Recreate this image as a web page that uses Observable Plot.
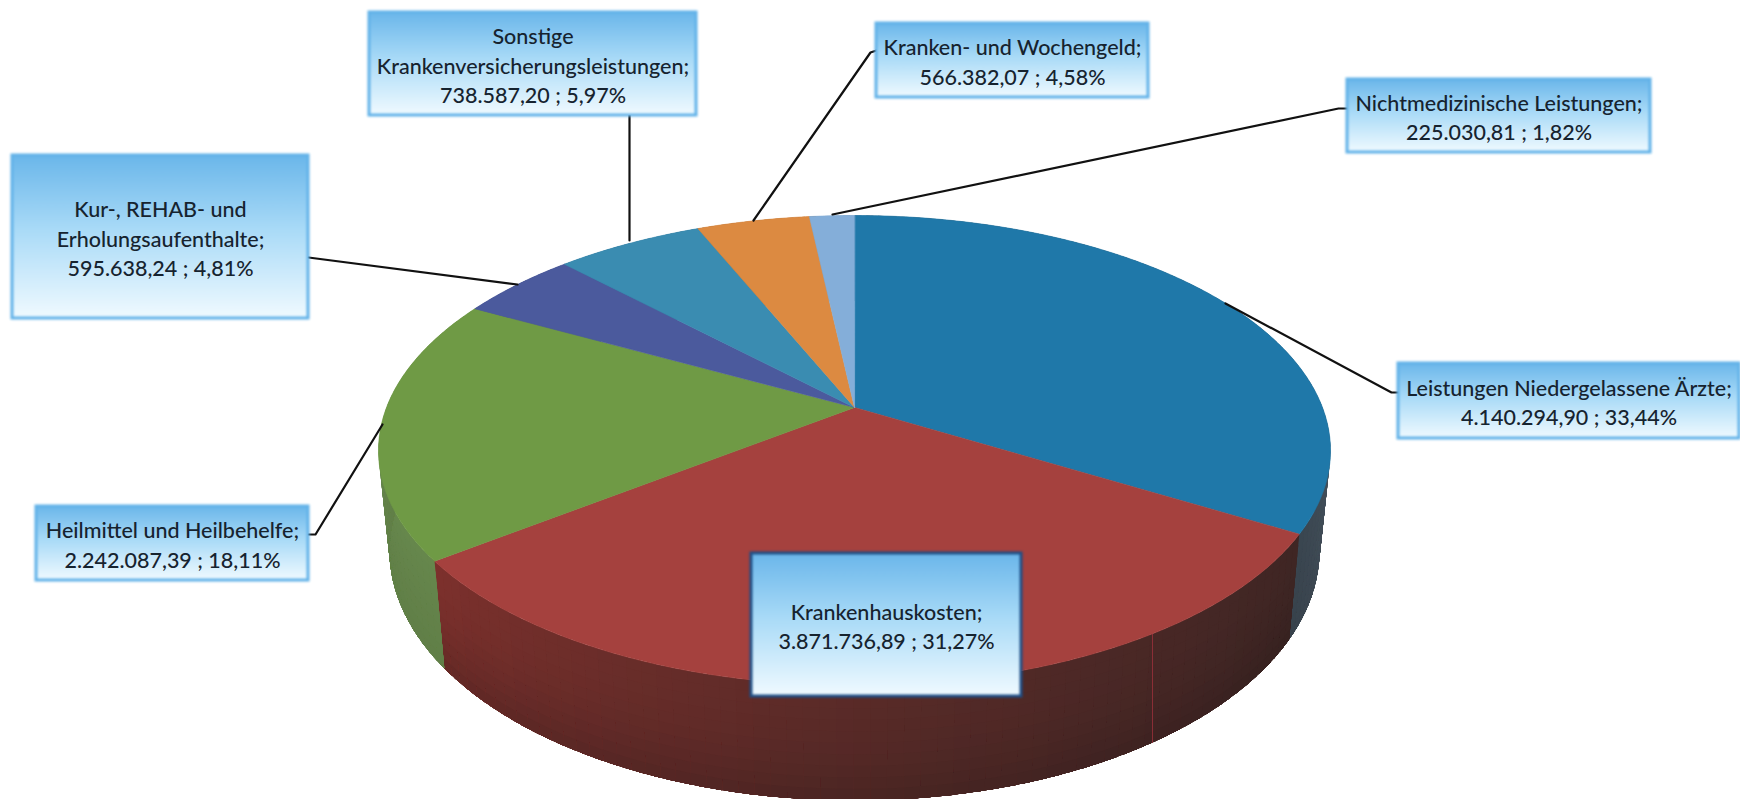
<!DOCTYPE html>
<html><head><meta charset="utf-8">
<script src="https://cdn.jsdelivr.net/npm/d3@7"></script>
<script src="https://cdn.jsdelivr.net/npm/@observablehq/plot@0.6"></script>
<style>html,body{margin:0;padding:0;background:#fff;overflow:hidden}svg{display:block}</style>
</head><body><div id="chart"></div>
<script>
// Data, clockwise from 12 o'clock
const categories = ["Leistungen Niedergelassene Ärzte","Krankenhauskosten","Heilmittel und Heilbehelfe","Kur-, REHAB- und\nErholungsaufenthalte","Sonstige\nKrankenversicherungsleistungen","Kranken- und Wochengeld","Nichtmedizinische Leistungen"];
const amounts = [4140294.90,3871736.89,2242087.39,595638.24,738587.20,566382.07,225030.81];

// Styles
const topColors = ["#1f78a9","#a5413e","#6f9a45","#4b5a9d","#3a8cb1","#dc8a41","#84aed9"];
const wallFrom = ["#4b5966","#3f2624","#66874c","#3b4678","#2d6c88","#a86a32","#6585a5"];
const wallTo   = ["#3a4650","#7c302c","#66874c","#3b4678","#2d6c88","#a86a32","#6585a5"];
// Page-space layout
const labelBoxes = [[1398,363,1739,438],[751,553,1021,696],[36,506,308,580],[12,155,308,318],[369,12,696,115],[876,23,1148,97],[1347,79,1650,152]];
const leaders = [
  [[1225,303],[1391,392],[1400,392]],
  [],
  [[308,534],[315,534],[382,424]],
  [[308,257],[517,284]],
  [[629,115],[629,240]],
  [[876,50],[870,52],[753,220]],
  [[1347,108],[1338,108],[832,214]]
];
const topEllipse = {cx:854,cy:450,rx:476,ry:235};
const baseEllipse = {cx:854,cy:550,rx:465,ry:250};
const tilt = -0.183;

const de = d3.formatLocale({decimal:",",thousands:".",grouping:[3],currency:["","€"]});
const total = d3.sum(amounts);
const labelText = categories.map((c,i)=>`${c};\n${de.format(",.2f")(amounts[i])} ; ${de.format(".2f")(amounts[i]/total*100)}%`);

function project(e,theta,r=1){
  const u=r*Math.sin(theta), v=-r*Math.cos(theta), w=1+tilt*v;
  return [e.cx+e.rx*u*Math.sqrt(1-tilt*tilt)/w, e.cy+e.ry*(v+tilt)/w];
}
const arcs = d3.pie().sort(null).value(d=>d)(amounts);

const topPts=[], wallPts=[];
const mix=(p,q,f)=>[p[0]+(q[0]-p[0])*f,p[1]+(q[1]-p[1])*f];
arcs.forEach((a,i)=>{
  const n=Math.max(4,Math.ceil((a.endAngle-a.startAngle)/0.01));
  const c=project(topEllipse,0,0);
  topPts.push({id:i,x:c[0],y:c[1],c:topColors[i]});
  for(let k=0;k<=n;k++){
    const t=a.startAngle+(a.endAngle-a.startAngle)*k/n, p=project(topEllipse,t);
    topPts.push({id:i,x:p[0],y:p[1],c:topColors[i]});
  }
  const shade=d3.interpolateRgb(wallFrom[i],wallTo[i]);
  const m=Math.max(4,Math.ceil((a.endAngle-a.startAngle)/0.03));
  const bands=10;
  for(let k=0;k<m;k++){
    const t0=a.startAngle+(a.endAngle-a.startAngle)*k/m, t1=a.startAngle+(a.endAngle-a.startAngle)*(k+1.6)/m;
    const tMid=(t0+t1)/2;
    const frac=i===0?Math.min(1,Math.max(0,(tMid-Math.PI/2)/(a.endAngle-Math.PI/2))):Math.pow(k/(m-1),1.3);
    const col=shade(frac);
    const a0=project(topEllipse,t0),a1=project(topEllipse,t1),b0=project(baseEllipse,t0),b1=project(baseEllipse,t1);
    const depth=-Math.cos(tMid);
    for(let b=0;b<bands;b++){
      // every band reaches the base, so the next one paints over its seam
      const f0=b/bands;
      const cc=d3.interpolateRgb(col,"#1e1414")(i===1?0.3*f0*f0:0.08*f0);
      const id=`${i}-${k}-${b}`;
      [mix(a0,b0,f0),mix(a1,b1,f0),b1,b0].forEach(p=>wallPts.push({id,x:p[0],y:p[1],c:cc,o:i*1000+k+depth}));
    }
  }
});

const boxes=labelBoxes.map((b,i)=>({x1:b[0],y1:b[1],x2:b[2],y2:b[3],text:labelText[i],mx:(b[0]+b[2])/2,my:(b[1]+b[3])/2,centre:i===1}));
const leaderPts=leaders.flatMap((l,i)=>l.map(p=>({id:i,x:p[0],y:p[1]})));

const gradient=()=>{
  const s=d3.create("svg:defs");
  const g=s.append("linearGradient").attr("id","boxFill").attr("x1",0).attr("x2",0).attr("y1",0).attr("y2",1);
  [[0,"#6ab6ea"],[0.45,"#a8daf7"],[1,"#f0faff"]].forEach(([o,c])=>g.append("stop").attr("offset",o).attr("stop-color",c));
  return s.node();
};

const chart=Plot.plot({
  width:1740,height:799,margin:0,
  x:{domain:[0,1740],range:[0,1740],axis:null},
  y:{domain:[0,799],range:[0,799],axis:null},
  color:{type:"identity"},
  style:{background:"#fff"},
  marks:[
    gradient,
    Plot.line(wallPts,{x:"x",y:"y",z:"id",fill:"c",strokeWidth:0,stroke:null,curve:"linear-closed"}),
    Plot.ruleX([1152],{y1:620,y2:743,stroke:"#a8323e",strokeWidth:1,strokeOpacity:0.7}),
    Plot.line(topPts,{x:"x",y:"y",z:"id",fill:"c",stroke:"c",strokeWidth:0.6,curve:"linear-closed"}),
    Plot.line(leaderPts,{x:"x",y:"y",z:"id",stroke:"#111",strokeWidth:2.2}),
    Plot.rect(boxes,{x1:"x1",y1:"y1",x2:"x2",y2:"y2",fill:"url(#boxFill)",stroke:d=>d.centre?"#1f4f86":"#62b2e8",strokeWidth:3,imageFilter:"blur(0.9px)"}),
    Plot.text(boxes,{x:"mx",y:"my",text:"text",fontFamily:"Lato",fontSize:21.5,lineHeight:1.38,fill:"#16232f",fontWeight:500,textAnchor:"middle",lineAnchor:"middle"})
  ]
});
document.getElementById("chart").append(chart);
</script></body></html>
